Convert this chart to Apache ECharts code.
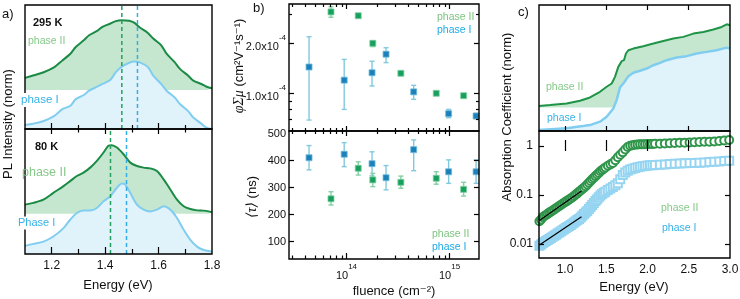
<!DOCTYPE html>
<html><head><meta charset="utf-8">
<script src="https://cdn.jsdelivr.net/npm/echarts@6/dist/echarts.min.js"></script>
<style>html,body{margin:0;padding:0;background:#fff}#c{width:740px;height:299px}</style>
</head><body><div id="c"></div>
<script>
// ---------- panel a : PL spectra ----------
const aTopEnergy  = [1.10,1.13,1.17,1.21,1.24,1.27,1.29,1.32,1.34,1.37,1.39,1.42,1.44,1.46,1.49,1.51,1.53,1.56,1.58,1.61,1.63,1.66,1.68,1.71,1.73,1.76,1.78,1.80];
const aTopPhaseII = [0.412,0.431,0.458,0.499,0.553,0.607,0.661,0.715,0.756,0.791,0.824,0.851,0.870,0.878,0.873,0.856,0.818,0.775,0.729,0.675,0.607,0.539,0.485,0.431,0.390,0.363,0.341,0.328];
const aTopPhaseI  = [0.033,0.043,0.065,0.106,0.160,0.187,0.241,0.274,0.309,0.341,0.363,0.398,0.458,0.499,0.534,0.545,0.537,0.499,0.431,0.363,0.309,0.255,0.201,0.146,0.092,0.043,0.011,0.000];
const aTopBaseII  = 0.314;
const aBotEnergyII = [1.100,1.131,1.169,1.206,1.244,1.269,1.294,1.319,1.344,1.369,1.394,1.412,1.425,1.444,1.469,1.494,1.519,1.544,1.569,1.594,1.619,1.644,1.669,1.694,1.719,1.744,1.769,1.787,1.800];
const aBotPhaseII  = [0.395,0.409,0.435,0.489,0.543,0.583,0.624,0.651,0.691,0.745,0.812,0.866,0.871,0.852,0.798,0.731,0.704,0.691,0.685,0.664,0.597,0.516,0.435,0.382,0.360,0.349,0.347,0.341,0.333];
const aBotEnergyI  = [1.100,1.131,1.169,1.206,1.244,1.269,1.294,1.319,1.344,1.369,1.394,1.419,1.444,1.4625,1.475,1.494,1.519,1.544,1.569,1.594,1.619,1.644,1.669,1.694,1.719,1.744,1.769,1.800];
const aBotPhaseI   = [0.065,0.081,0.099,0.140,0.207,0.274,0.328,0.349,0.349,0.368,0.422,0.462,0.530,0.565,0.556,0.489,0.395,0.355,0.341,0.355,0.382,0.355,0.288,0.194,0.113,0.059,0.032,0.019];
const aBotBaseII   = 0.323;
const aPeaks295 = [1.4625, 1.521];   // phase II, phase I
const aPeaks80  = [1.42, 1.48];
const aLabels = [1.2,1.4,1.6,1.8];
const aMajor  = [1.2,1.4,1.6];
const aMinor  = [1.3,1.5,1.7];

// ---------- panel b : mobility & lifetime vs fluence ----------
const bFluenceI  = [4.33e13,9.5e13,1.77e14,2.42e14,4.49e14,9.8e14,1.81e15];
const bMuI       = [1.44e-4,1.20e-4,1.33e-4,1.72e-4,1.02e-4,0.754e-4,0.73e-4];
const bMuILo     = [0.69e-4,0.80e-4,1.107e-4,1.53e-4,0.92e-4,0.713e-4,0.703e-4];
const bMuIHi     = [2.19e-4,1.60e-4,1.56e-4,1.88e-4,1.117e-4,0.80e-4,0.758e-4];
const bFluenceII = [7.07e13,1.30e14,1.80e14,3.37e14,7.43e14,1.37e15];
const bMuII      = [3.09e-4,2.93e-4,2.00e-4,1.32e-4,1.00e-4,0.967e-4];
const bMuIILo    = [2.87e-4,2.87e-4,1.91e-4,1.30e-4,0.99e-4,0.955e-4];
const bMuIIHi    = [3.32e-4,2.99e-4,2.07e-4,1.34e-4,1.01e-4,0.98e-4];
const bTauI      = [411,424,389,337,441,359,359];
const bTauILo    = [366,378,344,292,363,316,316];
const bTauIHi    = [456,467,433,382,477,403,403];
const bTauII     = [259,372,329,320,335,294];
const bTauIILo   = [236,347,304,298,313,269];
const bTauIIHi   = [285,396,353,343,359,320];
const bMuLabels  = [1e-4,2e-4];
const bMuMinor   = [3e-4,0.9e-4,0.8e-4,0.7e-4];
const bTauLabels = [100,200,300,400,500];
const bTauTicks  = [100,200,300,400];
const bFluMajor  = [1e14,1e15];
const bFluMinor  = [3e13,4e13,5e13,6e13,7e13,8e13,9e13,2e14,3e14,4e14,5e14,6e14,7e14,8e14,9e14];

// ---------- panel c : absorption ----------
const cTopEnergyII = [0.685,0.818,1.020,1.182,1.303,1.424,1.505,1.566,1.606,1.646,1.687,1.715,1.739,1.768,1.828,1.949,2.071,2.192,2.313,2.434,2.556,2.677,2.798,2.899,2.960,3.000];
const cTopPhaseII  = [0.198,0.206,0.219,0.240,0.266,0.311,0.351,0.377,0.430,0.509,0.554,0.562,0.615,0.641,0.654,0.673,0.694,0.715,0.734,0.747,0.773,0.786,0.805,0.826,0.847,0.839];
const cTopBaseII   = 0.187;
const cTopEnergyI  = [0.685,1.020,1.303,1.424,1.505,1.586,1.626,1.667,1.707,1.768,1.828,1.909,1.990,2.071,2.152,2.232,2.354,2.475,2.596,2.717,2.838,2.960,3.000];
const cTopPhaseI   = [0.008,0.021,0.047,0.074,0.113,0.179,0.245,0.346,0.377,0.435,0.462,0.478,0.496,0.522,0.541,0.562,0.583,0.594,0.615,0.628,0.641,0.662,0.654];
const cEnergy = [0.69,0.71,0.73,0.75,0.77,0.79,0.81,0.83,0.85,0.87,0.89,0.91,0.93,0.95,0.97,0.99,1.01,1.03,1.05,1.07,1.09,1.11,1.13,1.15,1.17,1.19,1.21,1.23,1.25,1.27,1.29,1.31,1.33,1.35,1.37,1.39,1.41,1.43,1.45,1.47,1.49,1.52,1.55,1.58,1.61,1.64,1.67,1.70,1.73,1.76,1.79,1.82,1.85,1.88,1.91,1.94,1.97,2.00,2.03,2.06,2.09,2.15,2.21,2.27,2.33,2.39,2.45,2.51,2.57,2.63,2.69,2.75,2.81,2.87,2.93,2.99];
const cAbsII = [0.0292,0.0316,0.0351,0.0372,0.0389,0.0412,0.0437,0.0457,0.0484,0.0507,0.0537,0.0562,0.0596,0.0624,0.0661,0.0692,0.0733,0.0767,0.0813,0.0851,0.0902,0.0955,0.102,0.108,0.116,0.124,0.132,0.141,0.151,0.164,0.178,0.193,0.209,0.224,0.243,0.263,0.282,0.305,0.324,0.343,0.363,0.394,0.422,0.452,0.513,0.589,0.661,0.741,0.851,0.955,1.01,1.04,1.06,1.07,1.08,1.08,1.09,1.10,1.10,1.10,1.11,1.11,1.13,1.14,1.15,1.16,1.17,1.18,1.19,1.21,1.22,1.22,1.24,1.26,1.29,1.32];
const cAbsI = [0.00923,0.00977,0.0104,0.0110,0.0115,0.0120,0.0127,0.0133,0.0140,0.0148,0.0155,0.0164,0.0172,0.0180,0.0191,0.0200,0.0211,0.0221,0.0234,0.0245,0.0260,0.0275,0.0292,0.0309,0.0324,0.0347,0.0376,0.0407,0.0437,0.0473,0.0519,0.0569,0.0624,0.0684,0.0750,0.0822,0.0902,0.0977,0.105,0.111,0.117,0.127,0.136,0.146,0.158,0.174,0.209,0.257,0.288,0.313,0.331,0.343,0.355,0.367,0.378,0.385,0.391,0.398,0.403,0.406,0.408,0.414,0.421,0.427,0.433,0.439,0.444,0.448,0.452,0.457,0.462,0.469,0.475,0.484,0.494,0.502];
const cFitII = [[0.69,0.030],[1.20,0.121]];
const cFitI  = [[0.69,0.0095],[1.20,0.036]];
const cXLabels = [1.0,1.5,2.0,2.5,3.0];
const cXTicks  = [1.0,1.5,2.0,2.5];
const cYLabels = [0.01,0.1,1];

// ---------- build ----------
const L = Math.log10;
const FONT = 'Liberation Sans, Arial, DejaVu Sans, sans-serif';
const zip = (a,b) => a.map((v,i)=>[v,b[i]]);
const grids = [
  {left:25, top:5, width:187, height:124},
  {left:25, top:129, width:187, height:125},
  {left:289, top:4, width:190, height:127},
  {left:289, top:131, width:190, height:128},
  {left:539, top:5, width:191, height:126},
  {left:539, top:131, width:191, height:127}
];
const ext = [
  {x:[1.1,1.8], y:[0,1]},
  {x:[1.1,1.8], y:[0,1]},
  {x:[13.442,15.286], y:[-4.227,-3.4624]},
  {x:[13.442,15.286], y:[36,510]},
  {x:[0.685,3.0], y:[0,1]},
  {x:[0.685,3.0], y:[-2.286,0.306]}
];
function ax(dim, g, pos, ticks, len, labels, fmt, margin, fontSize, rich) {
  const e = ext[g][dim];
  const o = {gridIndex:g, type:'value', position:pos, min:e[0], max:e[1], z:10,
    axisLine:{show:false}, splitLine:{show:false},
    axisTick:{show: ticks.length>0, inside:true, length:len, lineStyle:{color:'#000', width:1.2}},
    axisLabel:{show:false}};
  if (ticks.length) o.axisTick.customValues = ticks;
  if (labels) {
    o.axisLabel = {show:true, customValues:labels, formatter:fmt, margin:margin, color:'#111',
      fontSize:fontSize, fontFamily:FONT, showMinLabel:true, showMaxLabel:true, hideOverlap:false};
    if (rich) o.axisLabel.rich = rich;
  }
  return o;
}
const sup = {b:{fontSize:11, fontFamily:FONT, color:'#111', lineHeight:18, verticalAlign:'bottom'},
             s:{fontSize:8, fontFamily:FONT, color:'#111', lineHeight:10, verticalAlign:'top'}};
const f1 = v => v.toFixed(1);
const xAxis = [
  ax('x',0,'bottom',aMajor,6),
  ax('x',1,'bottom',aMajor,7,aLabels,f1,6,12),
  ax('x',2,'bottom',bFluMajor.map(L),5),
  ax('x',3,'bottom',bFluMajor.map(L),6,bFluMajor.map(L),v=>'{b|10}{s|'+Math.round(v)+'}',4,11,sup),
  ax('x',4,'bottom',cXTicks,5),
  ax('x',5,'bottom',cXTicks,6,cXLabels,f1,6,12),
  // decorations
  ax('x',0,'bottom',aMinor,4),
  ax('x',1,'bottom',aMinor,5),
  ax('x',1,'top',aMajor,5),
  ax('x',1,'top',aMinor,3.5),
  ax('x',2,'bottom',bFluMinor.map(L),3),
  ax('x',2,'top',bFluMajor.map(L),5),
  ax('x',2,'top',bFluMinor.map(L),3),
  ax('x',3,'bottom',bFluMinor.map(L),3.5),
  ax('x',3,'top',bFluMajor.map(L),5),
  ax('x',3,'top',bFluMinor.map(L),3),
  ax('x',4,'top',cXTicks,5),
  ax('x',5,'top',cXTicks,5)
];
const yAxis = [
  ax('y',0,'left',[],0),
  ax('y',1,'left',[],0),
  ax('y',2,'left',bMuLabels.map(L),5,bMuLabels.map(L),v=>'{b|'+(Math.pow(10,v)/1e-4).toFixed(1)+'x10}{s|-4}',3,11,sup),
  ax('y',3,'left',bTauTicks,5,bTauLabels,v=>String(Math.round(v)),3,11),
  ax('y',4,'left',[],0),
  ax('y',5,'left',cYLabels.map(L),5,cYLabels.map(L),v=>String(+Math.pow(10,v).toPrecision(1)),6,12),
  ax('y',2,'left',bMuMinor.map(L),3),
  ax('y',2,'right',bMuLabels.map(L),5),
  ax('y',2,'right',bMuMinor.map(L),3),
  ax('y',3,'right',bTauTicks,5),
  ax('y',5,'right',cYLabels.map(L),5)
];

function errRender(color) {
  return function(params, api) {
    const x = api.value(0), lo = api.value(1), hi = api.value(2);
    const a = api.coord([x,lo]), b = api.coord([x,hi]);
    const w = 2.5, st = {stroke:color, lineWidth:1.4};
    return {type:'group', children:[
      {type:'line', shape:{x1:a[0],y1:a[1],x2:b[0],y2:b[1]}, style:st},
      {type:'line', shape:{x1:a[0]-w,y1:a[1],x2:a[0]+w,y2:a[1]}, style:st},
      {type:'line', shape:{x1:b[0]-w,y1:b[1],x2:b[0]+w,y2:b[1]}, style:st}
    ]};
  };
}
const GREEN='#1b8a45', GFILL='#c6e7cf', BLUE='#80cdef', BFILL='#e0f3fb';
function area(g, xs, ys, color, fill, origin, smooth, width) {
  return {type:'line', xAxisIndex:g, yAxisIndex:g, data:zip(xs,ys), smooth:smooth, symbol:'none',
    lineStyle:{color:color, width:width||2}, areaStyle:{color:fill, opacity:1, origin:origin}, clip:true};
}
function vline(g, x, color) {
  return {type:'line', xAxisIndex:g, yAxisIndex:g, data:[[x,0],[x,1]], symbol:'none', z:5,
    lineStyle:{color:color, width:1.5, type:[4,3]}};
}
function errSeries(g, xs, lo, hi, color, tx, ty) {
  return {type:'custom', xAxisIndex:g, yAxisIndex:g, renderItem:errRender(color),
    encode:{x:0, y:[1,2]}, data:xs.map((x,i)=>[tx(x), ty(lo[i]), ty(hi[i])]), z:3};
}
function pts(g, xs, ys, color, border, tx, ty) {
  return {type:'scatter', xAxisIndex:g, yAxisIndex:g, symbol:'rect', symbolSize:6,
    itemStyle:{color:color, borderColor:border, borderWidth:0.8, opacity:1},
    data:xs.map((x,i)=>[tx(x), ty(ys[i])]), z:4};
}
const id = v => v;
const series = [
  area(0, aTopEnergy, aTopPhaseII, GREEN, GFILL, aTopBaseII, 0.3),
  area(0, aTopEnergy, aTopPhaseI, BLUE, BFILL, 'start', 0.3),
  vline(0, aPeaks295[0], '#23a05f'), vline(0, aPeaks295[1], '#35ade3'),
  area(1, aBotEnergyII, aBotPhaseII, GREEN, GFILL, aBotBaseII, 0.3),
  area(1, aBotEnergyI, aBotPhaseI, BLUE, BFILL, 'start', 0.3),
  vline(1, aPeaks80[0], '#23a05f'), vline(1, aPeaks80[1], '#35ade3'),
  errSeries(2, bFluenceI, bMuILo, bMuIHi, '#82c9dd', L, L),
  errSeries(2, bFluenceII, bMuIILo, bMuIIHi, '#86cfa6', L, L),
  pts(2, bFluenceI, bMuI, '#1d80b8', '#6fbde0', L, L),
  pts(2, bFluenceII, bMuII, '#17a05d', '#7fd0a2', L, L),
  errSeries(3, bFluenceI, bTauILo, bTauIHi, '#82c9dd', L, id),
  errSeries(3, bFluenceII, bTauIILo, bTauIIHi, '#86cfa6', L, id),
  pts(3, bFluenceI, bTauI, '#1d80b8', '#6fbde0', L, id),
  pts(3, bFluenceII, bTauII, '#17a05d', '#7fd0a2', L, id),
  area(4, cTopEnergyII, cTopPhaseII, '#1f9447', GFILL, cTopBaseII, false),
  area(4, cTopEnergyI, cTopPhaseI, '#80cdef', BFILL, 'start', false, 2.5),
  {type:'scatter', xAxisIndex:5, yAxisIndex:5, symbol:'emptyRect', symbolSize:8,
   itemStyle:{color:'#96d5f2', borderWidth:1, opacity:1},
   data:cEnergy.map((e,i)=>[e, L(cAbsI[i])]), z:3},
  {type:'scatter', xAxisIndex:5, yAxisIndex:5, symbol:'emptyCircle', symbolSize:8,
   itemStyle:{color:'#2f954a', borderWidth:1, opacity:1},
   data:cEnergy.map((e,i)=>[e, L(cAbsII[i])]), z:3},
  {type:'line', xAxisIndex:5, yAxisIndex:5, data:cFitII.map(p=>[p[0],L(p[1])]), symbol:'none', z:6,
   lineStyle:{color:'#000', width:1.2}},
  {type:'line', xAxisIndex:5, yAxisIndex:5, data:cFitI.map(p=>[p[0],L(p[1])]), symbol:'none', z:6,
   lineStyle:{color:'#000', width:1.2}}
];

// graphic: frames and texts
const graphic = [];
grids.forEach(g => graphic.push({type:'rect', z:100, silent:true,
  shape:{x:g.left, y:g.top, width:g.width, height:g.height},
  style:{fill:'none', stroke:'#000', lineWidth:1.4}}));
function txt(t, x, y, opt) {
  opt = opt || {};
  const el = {type:'text', z:110, x:x, y:y, rotation:opt.rot||0, silent:true,
    style:{text:t, fill:opt.color||'#111', font:(opt.weight||'normal')+' '+(opt.size||12)+'px '+FONT,
      align:opt.align||'left', verticalAlign:'middle'}};
  if (opt.bg) { el.style.backgroundColor = opt.bg; el.style.padding = [1,3,1,3]; }
  if (opt.rich) el.style.rich = opt.rich;
  graphic.push(el);
}
const PII='#86c98a', PI='#36b2e8';
txt('a)', 2, 14, {size:13});
txt('b)', 253, 8, {size:13});
txt('c)', 518, 12, {size:13});
txt('295 K', 33, 23, {size:11, weight:'bold'});
txt('phase II', 28, 41, {size:10.5, color:PII});
txt('phase I', 18, 100, {size:11.5, color:PI, bg:'#fff'});
txt('80 K', 35, 147, {size:11, weight:'bold'});
txt('phase II', 22, 172.5, {size:12.5, color:PII});
txt('Phase I', 15, 223, {size:11, color:PI, bg:'#fff'});
txt('phase II', 437, 17, {size:10.5, color:'#7cc47f'});
txt('phase I', 437, 30, {size:10.5, color:'#1eaae6'});
txt('phase II', 432, 234, {size:10.5, color:'#7cc47f'});
txt('phase I', 432, 247, {size:10.5, color:'#1eaae6'});
txt('phase II', 546, 87, {size:10.5, color:PII});
txt('phase I', 544, 118, {size:10.5, color:PI, bg:'#fff'});
txt('phase II', 661, 208, {size:10.5, color:PII});
txt('phase I', 662, 228, {size:10.5, color:PI});
const R90 = Math.PI/2;
txt('PL Intensity (norm)', 8, 124, {size:13, rot:R90, align:'center'});
txt('Absorption Coefficient (norm)', 507, 117, {size:13, rot:R90, align:'center'});
const tr = {b:{fontSize:13, fontFamily:FONT, color:'#111'},
            i:{fontSize:14, fontFamily:'Liberation Serif, DejaVu Serif, serif', fontStyle:'italic', color:'#111'}};
txt('{i|φΣμ}{b| (cm²V⁻¹s⁻¹)}', 239, 66, {size:13, rot:R90, align:'center', rich:tr});
txt('{i|⟨τ⟩}{b| (ns)}', 252, 197, {size:13, rot:R90, align:'center', rich:tr});
txt('Energy (eV)', 118, 285, {size:13, align:'center'});
txt('Energy (eV)', 634, 287, {size:13, align:'center'});
txt('fluence (cm⁻²)', 394, 291, {size:13, align:'center'});

const chart = echarts.init(document.getElementById('c'), null, {renderer:'canvas'});
chart.setOption({
  animation:false,
  grid: grids.map(g => Object.assign({outerBoundsMode:'none', containLabel:false, show:false}, g)),
  xAxis: xAxis, yAxis: yAxis, series: series, graphic: graphic
});
</script></body></html>
